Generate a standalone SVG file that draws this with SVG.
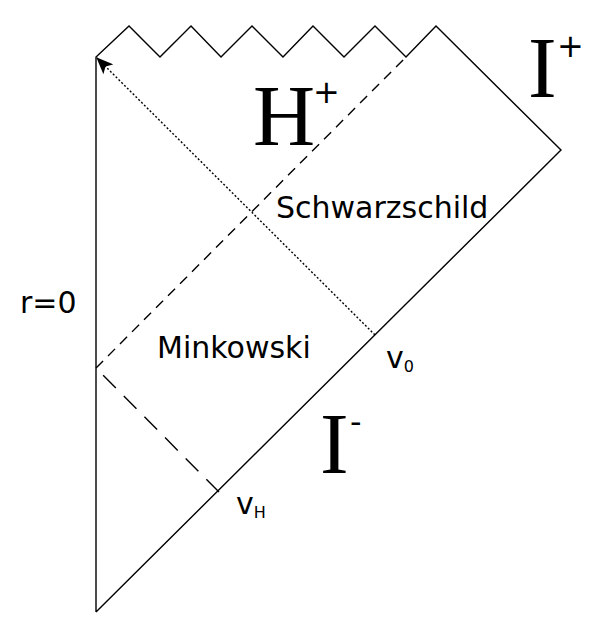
<svg xmlns="http://www.w3.org/2000/svg" width="609" height="641" viewBox="0 0 609 641">
<style>
.l{fill:none;stroke:#000;stroke-width:1.4}
.s{font-family:"DejaVu Sans",sans-serif;font-size:30px}
.b{font-family:"Liberation Serif",serif;font-size:86px}
.sup{font-family:"DejaVu Sans",sans-serif;font-size:32px}
</style>
<defs><marker id="a" markerWidth="18" markerHeight="14" refX="16" refY="7" orient="auto" markerUnits="userSpaceOnUse"><path d="M0,0L17,7L0,14L4,7Z"/></marker></defs>
<rect width="609" height="641" fill="#fff"/>
<g id="connectors">
<path class="l" d="M96,612V57L129,26L160,57L191,26L221,57L252,26L283,57L313,26L344,57L375,26L406,57L436,26L561,150L96,612"/>
<path class="l" d="M96,368L406,57" stroke-dasharray="10,7"/>
<path class="l" d="M219,492L96,368" stroke-dasharray="18,11.3"/>
<path class="l" d="M375,335L97,58" stroke-dasharray="2,2" marker-end="url(#a)"/>
</g>
<g id="labels">
<text class="s" x="20" y="313" font-size="26">r=0</text>
<text class="s" x="157" y="358">Minkowski</text>
<text class="s" x="276" y="218">Schwarzschild</text>
<text class="s" x="386" y="368" font-size="27">v<tspan font-size="16" dy="4">0</tspan></text>
<text class="s" x="236" y="514" font-size="27">v<tspan font-size="16" dy="4">H</tspan></text>
<text class="b" x="253" y="145">H</text><text class="sup" x="313" y="103">+</text>
<text class="b" x="528" y="97">I</text><text class="sup" x="557" y="57">+</text>
<text class="b" x="320" y="473">I</text><text class="sup" x="350" y="433">-</text>
</g>
</svg>
